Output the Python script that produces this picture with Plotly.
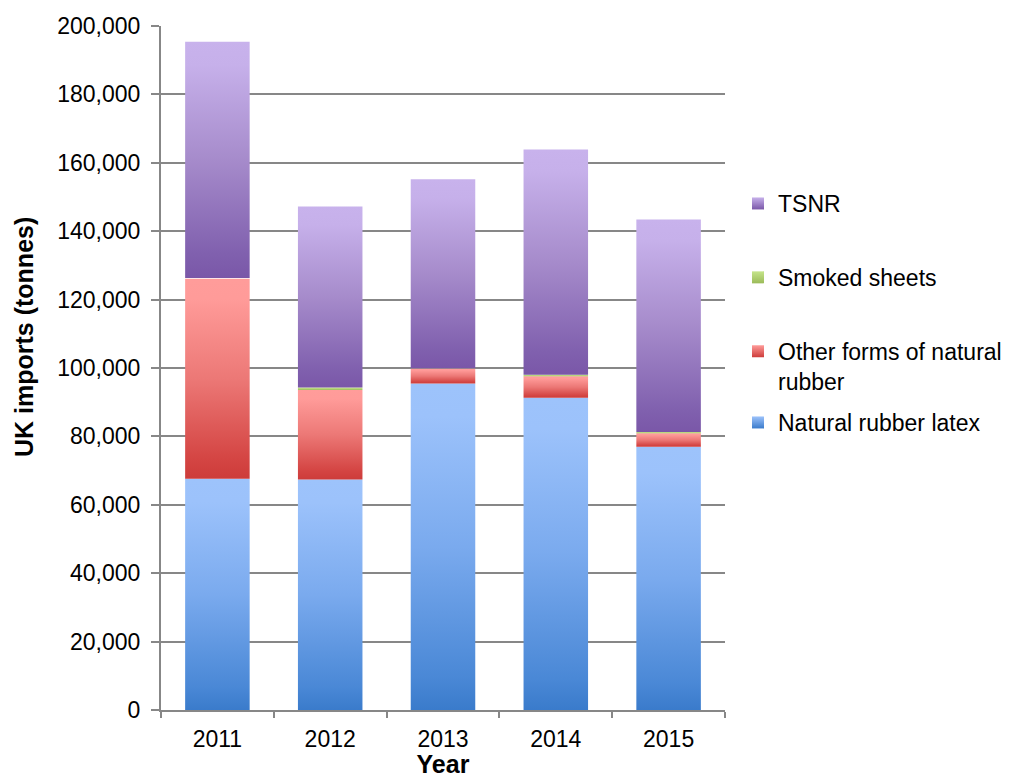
import plotly.graph_objects as go

# UK natural rubber imports by form, tonnes
years = ["2011", "2012", "2013", "2014", "2015"]
latex = [67600, 67400, 95500, 91300, 77000]
other_forms = [58500, 26200, 4300, 6300, 3900]
smoked_sheets = [200, 700, 100, 400, 400]
tsnr = [69100, 52900, 55300, 65900, 62100]

# stacking order (bottom to top) with gradient colours (dark bottom -> light top)
series = [
    ("Natural rubber latex", latex, ["#3A7BCB", "#4A88D6", "#7AAAEE", "#9CC2FB", "#9DC3FB"], "legend2"),
    ("Other forms of natural<br>rubber", other_forms, ["#CD3C3A", "#D44543", "#EC7876", "#FF9B99", "#FF9C9A"], "legend"),
    ("Smoked sheets", smoked_sheets, ["#9BBB59", "#A2C263", "#B6D679", "#C5E48A", "#C6E58B"], "legend"),
    ("TSNR", tsnr, ["#7A57A8", "#8060AE", "#A68BCB", "#C6B0EA", "#C8B2EC"], "legend"),
]
stops = [0.0, 0.1, 0.5, 0.9, 1.0]

GRID = "#878787"
FONT = "Liberation Sans, Arial, sans-serif"
half_width = 0.286

fig = go.Figure()

# legend swatches first, top entry first
for name, values, cols, leg in reversed(series):
    fig.add_trace(go.Scatter(
        x=[None], y=[None],
        mode="markers",
        marker=dict(symbol="square", size=12, color=cols[3],
                    gradient=dict(type="vertical", color=cols[0]),
                    line=dict(width=0)),
        name=name,
        legendgroup=name,
        legend=leg,
        showlegend=True,
    ))

# stacked bar segments, each with its own vertical gradient
base = [0] * len(years)
for name, values, cols, leg in series:
    scale = [[s, c] for s, c in zip(stops, cols)]
    for i, v in enumerate(values):
        b0 = base[i]
        b1 = b0 + v
        fig.add_trace(go.Scatter(
            x=[i - half_width, i + half_width, i + half_width, i - half_width, i - half_width],
            y=[b0, b0, b1, b1, b0],
            mode="lines",
            line=dict(width=0),
            fill="toself",
            fillgradient=dict(type="vertical", colorscale=scale, start=b0, stop=b1),
            legendgroup=name,
            legend=leg,
            showlegend=False,
            hoverinfo="skip",
        ))
        base[i] = b1

legend_style = dict(
    xref="container", yref="container",
    xanchor="left", yanchor="top",
    traceorder="grouped",
    tracegroupgap=41,
    valign="top",
    font=dict(family=FONT, size=23, color="black"),
    bgcolor="rgba(0,0,0,0)",
)

fig.update_layout(
    width=1011,
    height=778,
    margin=dict(l=161, r=286, t=26, b=68),
    paper_bgcolor="white",
    plot_bgcolor="white",
    font=dict(family=FONT, size=23, color="black"),
    showlegend=True,
    legend=dict(x=738 / 1011, y=1 - 182 / 778, **legend_style),
    legend2=dict(x=738 / 1011, y=1 - 401 / 778, **legend_style),
    xaxis=dict(
        range=[-0.5, 4.5],
        tickmode="array",
        tickvals=list(range(len(years))),
        ticktext=years,
        ticks="",
        showgrid=False,
        zeroline=False,
        showline=True,
        linecolor=GRID,
        linewidth=2,
        ticklabelstandoff=7,
        tickfont=dict(family=FONT, size=23),
        minor=dict(tick0=-0.5, dtick=1, ticks="outside", ticklen=6,
                   tickwidth=2, tickcolor=GRID, showgrid=False),
        title=dict(text="<b>Year</b>", standoff=3, font=dict(family=FONT, size=25)),
        automargin=False,
        fixedrange=True,
    ),
    yaxis=dict(
        range=[0, 200000],
        tickmode="linear",
        tick0=0,
        dtick=20000,
        tickformat=",",
        ticks="outside",
        ticklen=8,
        tickwidth=2,
        tickcolor=GRID,
        showgrid=True,
        gridcolor=GRID,
        gridwidth=1.6,
        zeroline=False,
        showline=True,
        linecolor=GRID,
        linewidth=2,
        ticklabelstandoff=6,
        tickfont=dict(family=FONT, size=23),
        automargin=False,
        fixedrange=True,
    ),
    annotations=[
        dict(
            text="<b>UK imports (tonnes)</b>",
            textangle=-90,
            xref="paper", yref="paper",
            x=(24 - 161) / 564, y=(710 - 337) / 684,
            xanchor="center", yanchor="middle",
            showarrow=False,
            font=dict(family=FONT, size=25, color="black"),
        )
    ],
)

fig.write_html("out.html")
